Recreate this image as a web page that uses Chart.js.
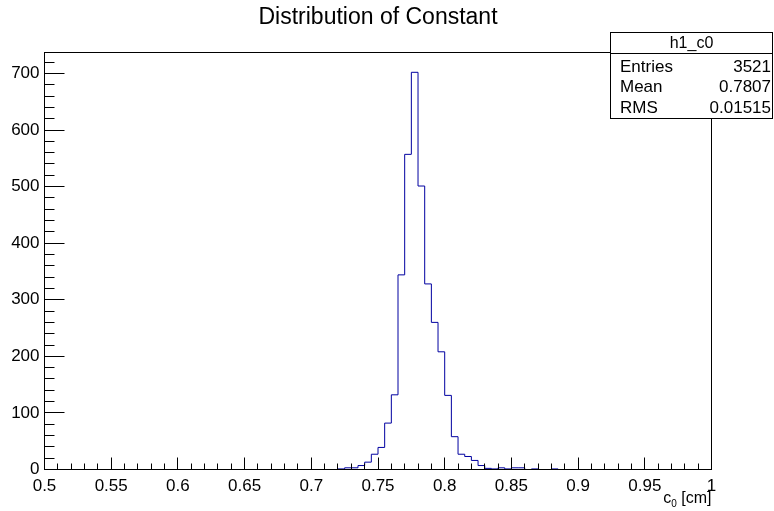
<!DOCTYPE html>
<html>
<head>
<meta charset="utf-8">
<script src="https://cdn.jsdelivr.net/npm/chart.js@4/dist/chart.umd.min.js"></script>
<style>
  html, body { margin: 0; padding: 0; background: #fff; }
  canvas { display: block; }
</style>
</head>
<body>
<canvas id="histo" width="774" height="511"></canvas>
<script>
// histogram h1_c0 : 100 bins from 0.5 to 1
const xMin = 0.5;
const xMax = 1.0;
const binWidth = 0.005;
const counts = [
  0, 0, 0, 0, 0, 0, 0, 0, 0, 0,
  0, 0, 0, 0, 0, 0, 0, 0, 0, 0,
  0, 0, 0, 0, 0, 0, 0, 0, 0, 0,
  0, 0, 0, 0, 0, 0, 0, 0, 0, 0,
  0, 0, 0, 0, 1, 3, 3, 7, 13, 27,
  39, 82, 132, 344, 557, 702, 501, 328, 260, 208,
  131, 58, 27, 23, 16, 7, 2, 1, 3, 1,
  3, 3, 0, 1, 0, 0, 1, 0, 0, 0,
  0, 0, 0, 0, 0, 0, 0, 0, 0, 0,
  0, 0, 0, 0, 0, 0, 0, 0, 0, 0
];
const yTicks = [0, 100, 200, 300, 400, 500, 600, 700];
const xTicks = [0.5, 0.55, 0.6, 0.65, 0.7, 0.75, 0.8, 0.85, 0.9, 0.95, 1];
const yMax = 737;

const title = 'Distribution of Constant';
const statsName = 'h1_c0';
const statsLabels = ['Entries', 'Mean', 'RMS'];
const statsValues = ['3521', '0.7807', '0.01515'];

const FONT = '"Liberation Sans", Arial, Helvetica, sans-serif';

// step line points on the low edge of each bin, plus the closing edge
const points = counts.map((c, i) => ({ x: +(xMin + i * binWidth).toFixed(3), y: c }));
points.push({ x: xMax, y: 0 });

const rootStyle = {
  id: 'rootStyle',
  afterDraw(chart) {
    const { ctx, chartArea: a } = chart;
    const xs = chart.scales.x, ys = chart.scales.y;
    ctx.save();
    ctx.strokeStyle = '#000';
    ctx.lineWidth = 1;

    // frame, drawn on top of the zero bins
    ctx.strokeRect(a.left, a.top, a.right - a.left, a.bottom - a.top);

    // inward ticks
    ctx.beginPath();
    for (let v = 0; v <= yMax; v += 20) {
      const y = Math.round(ys.getPixelForValue(v) - 0.5) + 0.5;
      const len = v % 100 === 0 ? 20 : 10;
      ctx.moveTo(a.left, y);
      ctx.lineTo(a.left + len, y);
    }
    for (let i = 0; i <= 50; i++) {
      const v = xMin + i * 0.01;
      const x = Math.round(xs.getPixelForValue(v) - 0.5) + 0.5;
      const len = i % 5 === 0 ? 12 : 6;
      ctx.moveTo(x, a.bottom);
      ctx.lineTo(x, a.bottom - len);
    }
    ctx.stroke();

    // title
    ctx.fillStyle = '#000';
    ctx.font = '23px ' + FONT;
    ctx.textAlign = 'center';
    ctx.textBaseline = 'middle';
    ctx.fillText(title, 378, 18);

    // x axis title: c_0 [cm]
    ctx.textAlign = 'left';
    ctx.textBaseline = 'alphabetic';
    const rest = ' [cm]';
    ctx.font = '16px ' + FONT;
    const wRest = ctx.measureText(rest).width;
    const wC = ctx.measureText('c').width;
    ctx.font = '10px ' + FONT;
    const wSub = ctx.measureText('0').width;
    const x0 = a.right - wRest - wSub - wC;
    ctx.font = '16px ' + FONT;
    ctx.fillText('c', x0, 503);
    ctx.font = '10px ' + FONT;
    ctx.fillText('0', x0 + wC, 507);
    ctx.font = '16px ' + FONT;
    ctx.fillText(rest, x0 + wC + wSub, 503);

    // stats box
    const bx = 610.5, by = 32.5, bw = 162, bh = 86;
    ctx.fillStyle = '#fff';
    ctx.fillRect(bx, by, bw, bh);
    ctx.strokeRect(bx, by, bw, bh);
    ctx.beginPath();
    ctx.moveTo(bx, 53.5);
    ctx.lineTo(bx + bw, 53.5);
    ctx.stroke();
    ctx.fillStyle = '#000';
    ctx.textBaseline = 'middle';
    ctx.textAlign = 'center';
    ctx.font = '16px ' + FONT;
    ctx.fillText(statsName, bx + bw / 2, 44);
    ctx.font = '17px ' + FONT;
    statsLabels.forEach((lab, i) => {
      const y = 67 + i * 20.5;
      ctx.textAlign = 'left';
      ctx.fillText(lab, 620, y);
      ctx.textAlign = 'right';
      ctx.fillText(statsValues[i], 771, y);
    });
    ctx.restore();
  }
};

new Chart(document.getElementById('histo').getContext('2d'), {
  type: 'line',
  data: {
    datasets: [{
      label: statsName,
      data: points,
      stepped: true,
      borderColor: '#0000a0',
      borderWidth: 1,
      pointRadius: 0,
      fill: false,
      tension: 0
    }]
  },
  options: {
    responsive: false,
    animation: false,
    devicePixelRatio: 1,
    layout: { padding: { left: 0, top: 52.5, right: 62.5, bottom: 0 } },
    plugins: { legend: { display: false }, tooltip: { enabled: false }, title: { display: false } },
    scales: {
      x: {
        type: 'linear',
        min: xMin,
        max: xMax,
        grid: { display: false, drawTicks: false },
        border: { display: false },
        afterFit: s => { s.height = 41.5; },
        afterBuildTicks: s => { s.ticks = xTicks.map(v => ({ value: v })); },
        ticks: {
          color: '#000',
          font: { family: FONT, size: 17 },
          padding: 7,
          maxRotation: 0,
          autoSkip: false,
          callback: v => String(+v.toFixed(2))
        }
      },
      y: {
        min: 0,
        max: yMax,
        grid: { display: false, drawTicks: false },
        border: { display: false },
        afterFit: s => { s.width = 44.5; },
        afterBuildTicks: s => { s.ticks = yTicks.map(v => ({ value: v })); },
        ticks: {
          color: '#000',
          font: { family: FONT, size: 17 },
          padding: 5,
          callback: v => String(v)
        }
      }
    }
  },
  plugins: [rootStyle]
});
</script>
</body>
</html>
